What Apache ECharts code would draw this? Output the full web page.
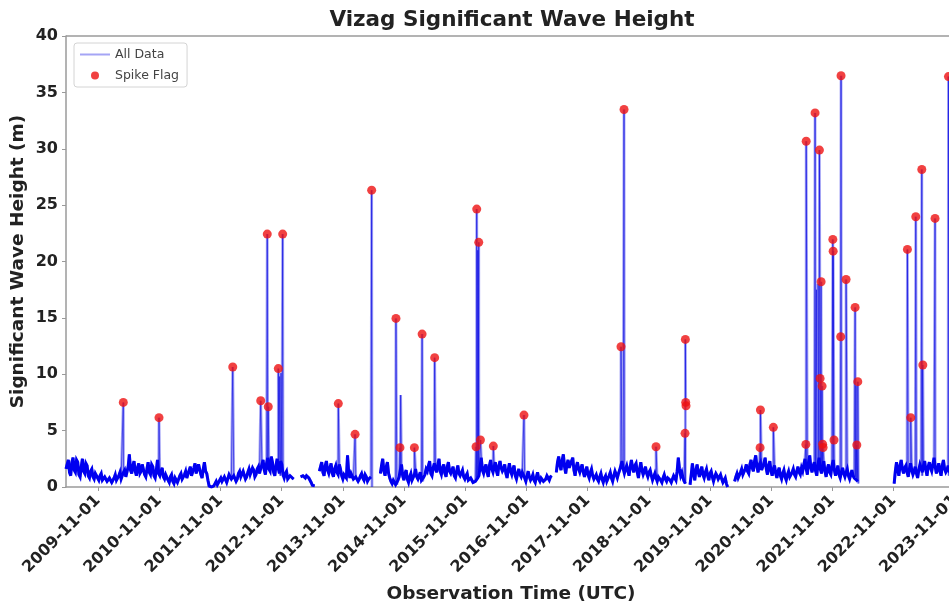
<!DOCTYPE html>
<html>
<head>
<meta charset="utf-8">
<title>Vizag Significant Wave Height</title>
<script src="https://cdn.jsdelivr.net/npm/echarts@6/dist/echarts.min.js"></script>
<style>
  html, body { margin: 0; padding: 0; background: #ffffff; }
  #chart { width: 949px; height: 608px; }
</style>
</head>
<body>
<div id="chart"></div>
<script>
// Regular record: one reading every 14 days from the start date; null marks a data gap.
const baseStart = '2009-04-24';
const baseStepDays = 14;
const baseValues = [
  1.6, 2.4, 1.0, 2.6, 1.3, 2.2, 0.9, 2.5, 1.2, 1.9, 0.8, 1.6, 0.7, 1.3,
  0.6, 1.2, 0.5, 1.0, 0.4, 0.9, 0.35, 1.1, 0.5, 1.3,
  0.8, 1.5, 1.0, 2.9,
  1.2, 2.3, 1.0, 2.1, 1.4, 1.9, 0.9, 2.2, 1.1, 1.8, 0.8, 2.4, 1.0, 1.7, 0.7,
  1.0, 0.4, 1.1, 0.3, 0.9, 0.5, 1.2, 0.6, 1.4,
  0.9, 1.8, 1.1, 2.1, 1.3, 1.9, 0.8, 2.2, 1.2,
  0.1, 0.0, 0.1, 0.5, 0.3,
  0.8, 0.4, 1.0, 0.5, 1.2, 0.6, 1.1, 0.7, 1.4, 0.8, 1.3, 0.9, 1.6, 1.0, 1.5, 1.1, 1.8,
  1.3, 2.4, 1.1, 2.6, 1.4, 2.2, 1.0, 2.5, 1.2, 2.0, 0.8, 1.4, 0.6, 1.1,
  0.7, null, null,
  0.9, 1.0, 0.8, 0.9, 0.9, 0.15, 0.1, null,
  1.4, 2.2, 1.0, 2.3, 1.2, 2.1, 0.9, 1.9, 1.1,
  1.6, 0.7, 1.2, 2.8, 0.8, 1.1, 0.6, 1.0, 0.7, 1.2, 0.6, 0.9, 0.7,
  0.9, null, null, null,
  1.2, 2.5, 1.0, 2.2, 0.8, 0.3, 0.5, 0.2,
  0.9, 2.0, 0.6, 1.5, 0.4, 1.2, 0.5, 1.6, 0.7, 1.3, 0.5, 1.1,
  1.4, 2.3, 1.0, 2.1, 1.3, 2.5, 1.1, 2.0, 0.9, 2.2, 1.2, 1.8, 0.8, 1.9, 1.0, 1.5,
  0.7, 1.2, 0.5, 0.9, 0.3, 0.6,
  1.0, 2.6, 1.2, 2.0, 0.9, 2.4, 1.3, 2.2, 1.0, 2.3, 1.4, 2.0, 0.8, 2.1, 1.1, 1.9, 0.7, 1.6, 0.9,
  1.2, 0.5, 1.4, 0.6, 1.1, 0.4, 1.3, 0.5, 0.9, 0.35, 1.0, 0.6,
  1.0, null,
  1.3, 2.7, 1.5, 2.9, 1.2, 2.4, 1.6, 2.6, 1.0, 2.2, 1.3, 2.0, 0.9, 1.8, 0.8, 1.6, 0.7,
  1.1, 0.5, 1.2, 0.4, 1.0, 0.6, 1.3, 0.5, 1.4, 0.8,
  1.5, 2.3, 1.2,
  1.9, 1.0, 2.4, 1.3, 2.1, 0.8, 2.2, 1.1, 1.8, 0.9, 1.5,
  0.6, 1.2, 0.5, 1.0, 0.4, 1.1, 0.5, 0.9, 0.4, 1.0, 0.6, 2.6,
  1.0, 0.8, 0.3, null, 0.2,
  2.1, 0.6, 2.0, 0.9,
  1.8, 0.8, 1.6, 0.6, 1.4, 0.5, 1.2, 0.7, 1.1, 0.4, 0.8,
  0.0, null, null,
  0.5, 1.2, 0.7, 1.6, 1.0, 2.0, 1.2, 2.4, 1.4, 2.8, 1.3, 2.2, 1.6, 2.6, 1.1,
  2.3, 1.0, 1.9, 0.8, 1.7, 0.7, 1.5, 0.6, 1.4, 0.8, 1.6, 0.9, 1.8, 1.1,
  1.4, 2.5, 1.1, 2.8, 1.3, 2.2, 1.0, 2.6, 1.2, 2.3, 0.9, 2.0, 1.1, 2.4, 1.0,
  1.9, 0.8, 1.7, 0.9, 1.6, 0.7, 1.5, 0.8, 0.6,
  null, null, null, null, null, null, null, null, null, null, null, null, null, null, null,
  0.3, 2.2, 1.0, 2.4, 1.2, 1.9, 0.9, 2.1, 1.1, 1.8, 0.8, 2.0, 1.3, 2.3, 1.0,
  2.2, 1.4, 2.6, 1.2, 2.1, 1.0, 2.4, 1.3, 1.9, 1.2, 2.0
];

// Intermediate readings, half a step (7 days) after each regular reading.
const midValues = [
  2.0, 1.3, 2.2, 1.5, 2.4, 1.1, 1.8, 1.4, 2.1, 1.0, 1.4, 0.9, 1.2, 0.8,
  1.0, 0.6, 0.9, 0.5, 0.8, 0.4, 0.8, 0.6, 1.0, 0.7,
  1.3, 0.9, 1.8, 1.5,
  1.9, 1.4, 1.7, 1.2, 2.0, 1.1, 1.6, 1.3, 2.0, 1.0, 1.5, 1.2, 1.4, 0.9, 1.1,
  0.6, 0.9, 0.5, 0.8, 0.4, 1.0, 0.7, 1.1, 0.8,
  1.5, 1.0, 1.7, 1.2, 2.0, 1.1, 1.6, 1.4, 0.6,
  0.0, 0.0, 0.3, 0.2, 0.6,
  0.5, 0.9, 0.4, 1.1, 0.7, 1.0, 0.5, 1.2, 0.9, 1.4, 0.7, 1.3, 1.1, 1.7, 0.9, 1.6, 1.2,
  2.0, 1.5, 2.1, 1.6, 2.7, 1.3, 1.9, 1.6, 2.3, 1.1, 1.2, 0.7, 1.0, 0.8,
  null, null, null,
  0.8, 0.9, 1.0, 0.8, 0.4, 0.1, null, null,
  1.8, 1.3, 1.9, 1.5, 1.7, 1.2, 1.6, 1.3, 2.0,
  1.0, 1.1, 0.8, 1.3, 1.2, 0.7, 0.9, 0.5, 1.0, 0.8, 1.1, 0.5, 0.8,
  null, null, null, null,
  1.9, 1.4, 1.8, 1.2, 0.5, 0.6, 0.2, 0.6,
  1.5, 1.0, 1.2, 0.7, 0.9, 0.6, 1.1, 0.9, 1.0, 0.6, 0.9, 1.6,
  1.9, 1.2, 1.7, 1.6, 2.0, 1.4, 1.7, 1.2, 1.8, 1.4, 1.5, 1.0, 1.4, 1.2, 1.1, 0.9,
  1.0, 0.6, 0.8, 0.4, 0.5, 0.8,
  1.8, 1.5, 1.7, 1.3, 1.9, 1.6, 1.8, 1.4, 1.9, 1.7, 1.6, 1.2, 1.5, 1.4, 1.6, 1.0, 1.2, 1.1, 1.3,
  0.8, 1.0, 0.9, 0.8, 0.6, 0.9, 0.7, 0.8, 0.5, 0.7, 0.8, 0.9,
  null, null,
  2.2, 1.9, 2.4, 1.8, 2.0, 1.7, 2.3, 1.5, 1.8, 1.6, 1.7, 1.3, 1.4, 1.1, 1.3, 1.0, 0.9,
  0.7, 0.9, 0.7, 0.8, 0.5, 1.0, 0.8, 1.0, 1.1, 1.2,
  1.9, 1.6, 1.6,
  1.4, 1.8, 1.7, 1.9, 1.3, 1.6, 1.5, 1.4, 1.2, 1.3, 1.0,
  0.9, 0.8, 0.9, 0.6, 0.8, 0.7, 0.8, 0.6, 0.7, 0.9, 1.4, 1.6,
  1.3, 0.5, null, null, 1.1,
  1.2, 1.5, 1.3, 1.4,
  1.1, 1.3, 1.0, 1.2, 0.9, 0.9, 1.0, 0.8, 0.7, 0.6, 0.3,
  null, null, null,
  0.9, 0.8, 1.3, 1.1, 1.6, 1.4, 2.0, 1.7, 2.3, 1.8, 2.0, 1.5, 2.1, 1.6, 1.9,
  1.4, 1.6, 1.2, 1.4, 1.0, 1.2, 0.9, 1.1, 0.9, 1.3, 1.1, 1.4, 1.3, 1.7,
  2.0, 1.6, 2.2, 1.7, 1.9, 1.4, 2.0, 1.6, 1.8, 1.4, 1.6, 1.3, 1.9, 1.5, 1.4,
  1.1, 1.3, 1.2, 1.3, 1.0, 1.1, 1.0, 0.9, 0.5,
  null, null, null, null, null, null, null, null, null, null, null, null, null, null, null,
  1.4, 1.5, 1.9, 1.6, 1.7, 1.3, 1.6, 1.5, 1.4, 1.2, 1.5, 1.7, 1.9, 1.5, 1.8,
  1.7, 2.0, 1.8, 1.6, 1.4, 1.9, 1.6, 1.5, 1.4, 1.7, 1.5
];

// Readings flagged as spikes (drawn as red dots).
const spikeDates = [
  '2010-04-01', '2010-10-31', '2012-01-14', '2012-06-29', '2012-08-07', '2012-08-13',
  '2012-10-12', '2012-11-07', '2013-10-05', '2014-01-13', '2014-04-22', '2014-09-14',
  '2014-10-08', '2015-01-02', '2015-02-17', '2015-05-03', '2016-01-05', '2016-01-09',
  '2016-01-21', '2016-01-31', '2016-04-17', '2016-10-17', '2018-05-19', '2018-06-06',
  '2018-12-14', '2019-06-05', '2019-06-07', '2019-06-09', '2019-06-11', '2020-08-26',
  '2020-08-28', '2020-11-13', '2021-05-26', '2021-05-28', '2021-07-20', '2021-08-15',
  '2021-08-19', '2021-08-25', '2021-08-31', '2021-09-03', '2021-09-06', '2021-11-03',
  '2021-11-05', '2021-11-10', '2021-12-20', '2021-12-22', '2022-01-21', '2022-03-16',
  '2022-03-26', '2022-04-01', '2023-01-22', '2023-02-11', '2023-03-13', '2023-04-18',
  '2023-04-24', '2023-07-06', '2023-09-24'
];
const spikeHeights = [
  7.5, 6.15, 10.64, 7.65, 22.43, 7.12,
  10.5, 22.43, 7.4, 4.67, 26.33, 14.95,
  3.49, 3.49, 13.56, 11.47, 3.57, 24.65,
  21.7, 4.17, 3.63, 6.38, 12.44, 33.48,
  3.57, 4.76, 13.09, 7.5, 7.2, 3.49,
  6.83, 5.29, 3.78, 30.67, 33.18, 29.88,
  9.63, 18.2, 8.95, 3.8, 3.5, 21.96,
  20.92, 4.17, 13.33, 36.47, 18.4, 15.93,
  3.72, 9.34, 21.07, 6.15, 23.97, 28.16,
  10.82, 23.82, 36.4
];

// Other irregular readings that are not flagged.
const otherDates = [
  '2012-10-16', '2012-10-20', '2012-10-24', '2012-10-28', '2012-11-02', '2012-11-10',
  '2014-04-24', '2014-10-12', '2016-01-12', '2016-01-15', '2016-01-18', '2016-01-25',
  '2021-07-28', '2021-08-02', '2021-08-07', '2021-08-11', '2022-03-20', '2022-03-22',
  '2022-04-04', '2023-04-20', '2023-04-22', '2023-09-27'
];
const otherHeights = [
  1.2, 9.8, 1.0, 10.1, 1.4, 0.9,
  0.0, 8.15, 2.0, 21.0, 1.5, 1.8,
  17.5, 1.0, 18.0, 1.5, 1.0, 9.0,
  0.3, 1.0, 10.5, 1.0
];

const xTickLabels = [
  '2009-11-01', '2010-11-01', '2011-11-01', '2012-11-01', '2013-11-01',
  '2014-11-01', '2015-11-01', '2016-11-01', '2017-11-01', '2018-11-01',
  '2019-11-01', '2020-11-01', '2021-11-01', '2022-11-01', '2023-11-01'
];
const xMin = '2009-04-24';
const xMax = '2023-11-08';

const DAY = 86400000;
const t0 = Date.parse(baseStart);
const byTime = (a, b) => a[0] - b[0];

// Regular record (regular + intermediate readings) as [time, value] pairs.
const regularData = [];
baseValues.forEach((v, i) => regularData.push([t0 + i * baseStepDays * DAY, v]));
midValues.forEach((v, i) => regularData.push([t0 + (i * baseStepDays + baseStepDays / 2) * DAY, v]));
regularData.sort(byTime);

// Full record: regular readings merged with the irregular ones in time order.
const allData = regularData.slice();
spikeDates.forEach((d, i) => allData.push([Date.parse(d), spikeHeights[i]]));
otherDates.forEach((d, i) => allData.push([Date.parse(d), otherHeights[i]]));
allData.sort(byTime);

const spikeData = spikeDates.map((d, i) => [Date.parse(d), spikeHeights[i]]);
const tickTimes = xTickLabels.map(s => Date.parse(s));

const FONT = 'DejaVu Sans';
const AXIS_GREY = '#9a9a9a';
const INK = '#222222';
const chart = echarts.init(document.getElementById('chart'), null, { renderer: 'canvas' });

chart.setOption({
  animation: false,
  backgroundColor: '#ffffff',
  textStyle: { fontFamily: FONT },
  title: {
    text: 'Vizag Significant Wave Height',
    left: 507,
    top: 4,
    textAlign: 'center',
    textStyle: { fontFamily: FONT, fontWeight: 'bold', fontSize: 21.5, color: INK }
  },
  legend: {
    orient: 'vertical',
    left: 74,
    top: 43,
    padding: [4, 8, 4, 6],
    itemGap: 6,
    itemWidth: 30,
    itemHeight: 8,
    backgroundColor: 'rgba(255,255,255,0.85)',
    borderColor: '#d4d4d4',
    borderWidth: 1,
    borderRadius: 3,
    textStyle: { fontFamily: FONT, fontSize: 12.5, lineHeight: 15, color: '#444444' },
    data: [
      { name: 'All Data', icon: 'path://M0,0L30,0L30,0.01L0,0.01ZM0,3.1L30,3.1L30,4.9L0,4.9ZM0,7.99L30,7.99L30,8L0,8Z' },
      { name: 'Spike Flag', icon: 'circle' }
    ]
  },
  // plot frame runs slightly past the right edge of the page
  grid: {
    left: 66, width: 890, top: 36, bottom: 121,
    containLabel: false,
    outerBoundsMode: 'none'
  },
  // time values in milliseconds on a linear axis, ticks placed on 1 November each year
  xAxis: {
    type: 'value',
    min: Date.parse(xMin),
    max: Date.parse(xMax),
    name: 'Observation Time (UTC)',
    nameLocation: 'middle',
    nameGap: 98,
    nameMoveOverlap: false,
    nameTextStyle: { fontFamily: FONT, fontWeight: 'bold', fontSize: 18.5, color: INK },
    splitLine: { show: false },
    axisLine: { show: true, onZero: false, lineStyle: { color: AXIS_GREY, width: 1.5 } },
    axisTick: { show: true, length: 4, customValues: tickTimes, lineStyle: { color: AXIS_GREY } },
    axisLabel: {
      customValues: tickTimes,
      rotate: 45,
      margin: 11,
      fontFamily: FONT,
      fontWeight: 'bold',
      fontSize: 16,
      color: INK,
      formatter: (v) => {
        const k = tickTimes.indexOf(v);
        return k >= 0 ? xTickLabels[k] : new Date(v).toISOString().slice(0, 10);
      }
    }
  },
  yAxis: {
    type: 'value',
    min: 0,
    max: 40,
    interval: 5,
    name: 'Significant Wave Height (m)',
    nameLocation: 'middle',
    nameGap: 38,
    nameMoveOverlap: false,
    nameTextStyle: { fontFamily: FONT, fontWeight: 'bold', fontSize: 18.5, color: INK },
    splitLine: { show: false },
    axisLine: { show: true, lineStyle: { color: AXIS_GREY, width: 1.5 } },
    axisTick: { show: true, length: 4, lineStyle: { color: AXIS_GREY } },
    axisLabel: { margin: 8, fontFamily: FONT, fontWeight: 'bold', fontSize: 16, color: INK }
  },
  graphic: [
    // top frame line of the plot area
    {
      type: 'line',
      shape: { x1: 66, y1: 36, x2: 956, y2: 36 },
      style: { stroke: AXIS_GREY, lineWidth: 1.5 },
      silent: true
    }
  ],
  series: [
    {
      name: 'All Data',
      type: 'line',
      data: allData,
      symbol: 'none',
      connectNulls: false,
      clip: true,
      lineStyle: { color: 'rgba(40,40,230,0.42)', width: 2.8 },
      itemStyle: { color: 'rgba(40,40,230,0.42)' },
      z: 2
    },
    {
      name: 'All Data (line)',
      type: 'line',
      data: allData,
      symbol: 'none',
      connectNulls: false,
      clip: true,
      lineStyle: { color: 'rgba(0,0,225,0.55)', width: 1 },
      z: 3
    },
    {
      name: 'All Data (regular)',
      type: 'line',
      data: regularData,
      symbol: 'none',
      connectNulls: false,
      clip: true,
      lineStyle: { color: '#0000f0', width: 3, join: 'miter', miterLimit: 4 },
      z: 4
    },
    {
      name: 'Spike Flag',
      type: 'scatter',
      data: spikeData,
      symbol: 'circle',
      symbolSize: 9,
      itemStyle: { color: '#ee1111' },
      z: 5
    }
  ]
});
</script>
</body>
</html>
